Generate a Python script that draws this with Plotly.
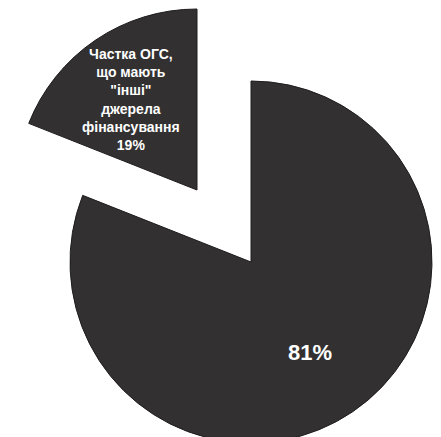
import plotly.graph_objects as go

labels = ['Частка ОГС,<br>що мають<br>"інші"<br>джерела<br>фінансування', 'Інші ОГС']
values = [19, 81]
pcts = ['19%', '81%']

W, H = 441, 437
R = 181
cx_main, cy_main = 243, 254
cx_pull, cy_pull = 189, 182

fill = '#323031'
edge = '#1e1c1d'
clear = 'rgba(0,0,0,0)'
rot = -360.0 * values[0] / sum(values)  # first slice ends at 12 o'clock

def dom(cx, cy, r):
    return dict(x=[max(0, (cx - r) / W), min(1, (cx + r) / W)],
                y=[max(0, (H - cy - r) / H), min(1, (H - cy + r) / H)])

fig = go.Figure()
# main (81%) part
fig.add_trace(go.Pie(
    labels=labels, values=values, sort=False, direction='clockwise', rotation=rot,
    marker=dict(colors=[clear, fill], line=dict(color=[clear, edge], width=[0, 1])),
    textinfo='none',
    domain=dom(cx_main, cy_main, R), showlegend=False, hoverinfo='skip'))
# pulled (19%) part
fig.add_trace(go.Pie(
    labels=labels, values=values, sort=False, direction='clockwise', rotation=rot,
    marker=dict(colors=[fill, clear], line=dict(color=[edge, clear], width=[1, 0])),
    textinfo='none',
    domain=dom(cx_pull, cy_pull, R), showlegend=False, hoverinfo='skip'))

fig.add_annotation(text=labels[0] + '<br>' + pcts[0], x=123 / W, y=1 - 91 / H,
                   xref='paper', yref='paper', xanchor='center', yanchor='middle',
                   showarrow=False, align='center',
                   font=dict(family='Liberation Sans, Arial', size=14, color='white',
                             weight='bold'))
fig.add_annotation(text=pcts[1], x=302 / W, y=1 - 344 / H,
                   xref='paper', yref='paper', xanchor='center', yanchor='middle',
                   showarrow=False, align='center',
                   font=dict(family='Liberation Sans, Arial', size=22, color='white',
                             weight='bold'))

fig.update_layout(width=W, height=H, margin=dict(l=0, r=0, t=0, b=0),
                  paper_bgcolor='white', plot_bgcolor='white')
fig.write_html("out.html")
